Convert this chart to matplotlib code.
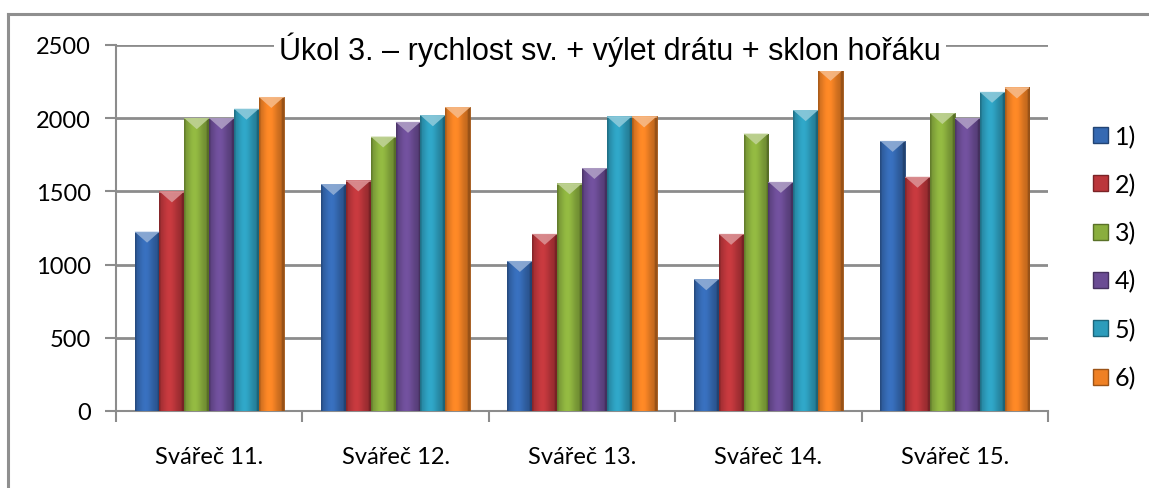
import numpy as np
import matplotlib
matplotlib.use("Agg")
import matplotlib.pyplot as plt
from matplotlib.colors import to_rgb
from matplotlib.patches import Patch, Polygon

welders = ["Svářeč 11.", "Svářeč 12.", "Svářeč 13.", "Svářeč 14.", "Svářeč 15."]
series_names = ["1)", "2)", "3)", "4)", "5)", "6)"]

s1 = [1225, 1550, 1025, 900, 1845]
s2 = [1500, 1575, 1210, 1210, 1600]
s3 = [2000, 1875, 1555, 1895, 2035]
s4 = [2000, 1975, 1660, 1565, 2000]
s5 = [2065, 2020, 2012, 2055, 2180]
s6 = [2145, 2075, 2012, 2330, 2210]
series = [s1, s2, s3, s4, s5, s6]

colors = ["#3569b2", "#bb363b", "#8aae3e", "#6b4c94", "#2d9cbb", "#ef8024"]

title = "Úkol 3. – rychlost sv. + výlet drátu + sklon hořáku"

W, H = 1149, 489
fig = plt.figure(figsize=(W / 100, H / 100), dpi=100)
ax = fig.add_axes([116 / W, 1 - 412 / H, (1048 - 116) / W, (412 - 46) / H])

grid_col = "#8c8c8c"
tick_font = ["Lato", "DejaVu Sans"]

n = len(series)
group_w = 0.8
bw = group_w / n
x = np.arange(len(welders))

# horizontal shading profile for the glossy bar look
prof_x = np.linspace(0, 1, 64)
profile = 0.78 + 0.30 * np.exp(-((prof_x - 0.42) / 0.33) ** 2)
profile[:4] *= 0.85
profile[-6:] *= 0.8

for i, (vals, c) in enumerate(zip(series, colors)):
    pos = x - group_w / 2 + bw * (i + 0.5)
    rgb = np.array(to_rgb(c))
    edge = rgb * 0.65
    bars = ax.bar(pos, vals, width=bw, color=c, edgecolor=edge, linewidth=0.6, zorder=3)
    grad = np.clip(rgb[None, None, :] * profile[None, :, None], 0, 1)
    light = np.clip(rgb * 0.55 + 0.45, 0, 1)
    for b in bars:
        bx, bwid, bh = b.get_x(), b.get_width(), b.get_height()
        im = ax.imshow(grad, extent=[bx, bx + bwid, 0, bh], aspect="auto",
                       zorder=3.1, interpolation="bilinear")
        im.set_clip_path(b)
        # bevel triangle at the top of each bar
        tri = Polygon([(bx, bh), (bx + bwid, bh), (bx + bwid / 2, bh - 75)],
                      closed=True, facecolor=light, edgecolor="none", zorder=3.2, alpha=0.9)
        ax.add_patch(tri)
        ax.add_patch(Polygon([(bx, bh), (bx + bwid, bh), (bx + bwid, bh - 8), (bx, bh - 8)],
                             closed=True, facecolor=light, edgecolor="none", zorder=3.25, alpha=0.6))

ax.set_xlim(-0.5, len(welders) - 0.5)
ax.set_ylim(0, 2500)
ax.set_yticks(np.arange(0, 2501, 500))
ax.yaxis.grid(True, color=grid_col, linewidth=2)
ax.set_axisbelow(True)

for side in ["top", "right"]:
    ax.spines[side].set_visible(False)
for side in ["left", "bottom"]:
    ax.spines[side].set_color(grid_col)
    ax.spines[side].set_linewidth(1.5)

ax.set_xticks(x)
ax.set_xticklabels(welders, fontsize=17, family=tick_font)
ax.tick_params(axis="x", length=0, pad=25)
ax.set_xticks(np.arange(-0.5, len(welders)), minor=True)
ax.tick_params(axis="x", which="minor", length=8, width=1.5, color=grid_col, direction="out")
ax.tick_params(axis="y", length=8, width=1.5, color=grid_col, pad=10, labelsize=17)
for lbl in ax.get_yticklabels():
    lbl.set_family(tick_font)

ax.text(0.53, 0.99, title, transform=ax.transAxes, ha="center", va="center",
        fontsize=22, family=["Liberation Sans", "DejaVu Sans"], zorder=5,
        bbox=dict(facecolor="white", edgecolor="none", pad=4))

handles = [Patch(facecolor=c, edgecolor=np.array(to_rgb(c)) * 0.65) for c in colors]
fig.legend(handles, series_names, loc="center left", bbox_to_anchor=(1070 / W, 1 - 258 / H),
           frameon=False, prop={"family": tick_font, "size": 18},
           handlelength=0.6, handleheight=0.6, handletextpad=0.3, labelspacing=1.0)

# outer chart frame (top and left edges visible)
fig.add_artist(plt.Line2D([8 / W, 8 / W], [0, 1 - 15 / H], color="#8f8f8f", linewidth=2.2))
fig.add_artist(plt.Line2D([8 / W, 1], [1 - 15 / H, 1 - 15 / H], color="#8f8f8f", linewidth=2.2))

fig.savefig("out.png", dpi=100)
